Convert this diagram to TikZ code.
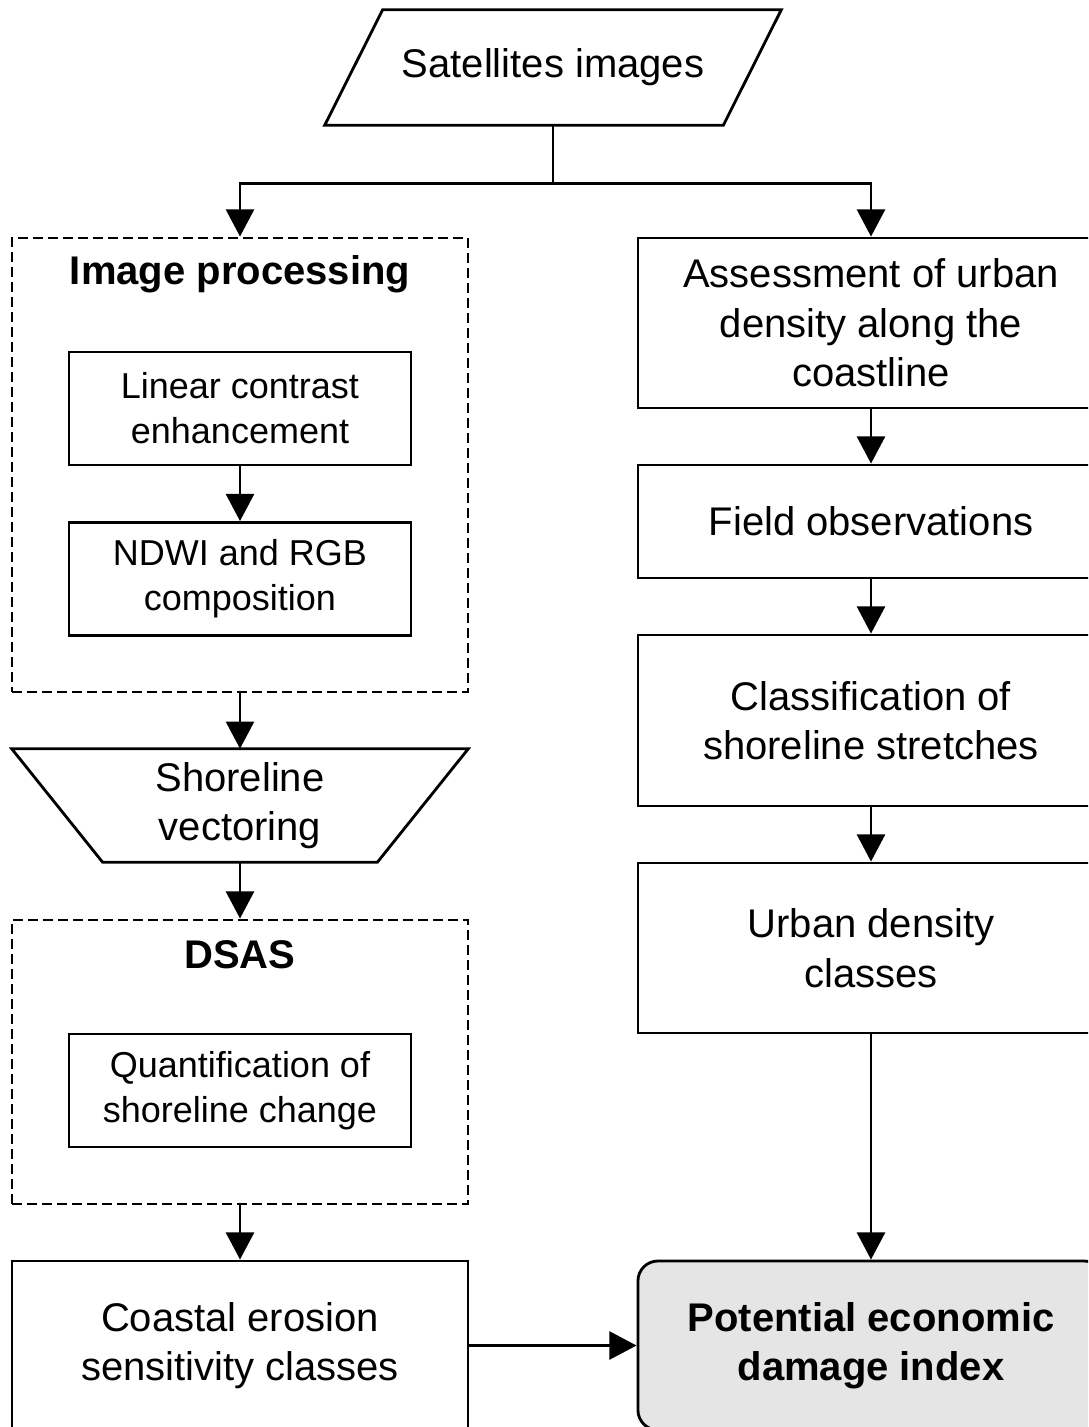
\documentclass[tikz,border=0pt]{standalone}
\usepackage{fontspec}
\setmainfont{Liberation Sans}
\usepackage{tikz}
\usetikzlibrary{arrows.meta}
\newcommand\mainsize{\fontsize{28.45}{35.2}\selectfont}
\newcommand\subsize{\fontsize{25.6}{32}\selectfont}
\definecolor{idxgray}{RGB}{229,229,229}
\tikzset{
  every picture/.style={line join=miter, >={Triangle[width=0.7cm,length=0.68cm]}},
  flow/.style={line width=2pt,->},
  outline/.style={line width=2pt},
  bigbox/.style={draw, line width=2pt, align=center, font=\mainsize, inner sep=0pt},
  plainbox/.style={align=center, font=\mainsize, inner sep=0pt},
  smallbox/.style={draw, line width=2pt, align=center, font=\subsize, inner sep=0pt,
    minimum width=8.55cm, minimum height=2.825cm},
  groupbox/.style={draw, line width=2pt, dash pattern=on 0.25cm off 0.125cm, inner sep=0pt,
    minimum width=11.4cm},
  grouptitle/.style={font=\mainsize\bfseries},
}

\begin{document}
\begin{tikzpicture}[x=0.025cm,y=-0.025cm]
\useasboundingbox (0,0) rectangle (1088,1427);
\clip (0,0) rectangle (1088,1427);
% input
\node[plainbox,minimum width=11.4cm,minimum height=2.875cm] (sat) at (553,67.5) {Satellites images};
\draw[outline] (sat.south west) -- ([xshift=1.45cm]sat.north west) -- (sat.north east)
  -- ([xshift=-1.45cm]sat.south east) -- cycle;
% left branch
\node[groupbox,minimum height=11.35cm] (proc) at (240,465) {};
\node[grouptitle] (proct) at (240,274) {Image processing};
\node[smallbox] (lin) at (240,408.5) {Linear contrast\\enhancement};
\node[smallbox] (ndwi) at (240,579) {NDWI and RGB\\composition};
\node[plainbox,minimum width=11.4cm,minimum height=2.825cm] (vect) at (240,805.5) {Shoreline\\vectoring};
\draw[outline] (vect.north west) -- (vect.north east) -- ([xshift=-2.275cm]vect.south east)
  -- ([xshift=2.275cm]vect.south west) -- cycle;
\node[groupbox,minimum height=7.1cm] (dsas) at (240,1062) {};
\node[grouptitle] (dsast) at (240,955) {DSAS};
\node[smallbox] (quant) at (240,1090.5) {Quantification of\\shoreline change};
\node[bigbox,minimum width=11.4cm,minimum height=4.225cm] (coast) at (240,1345.5) {Coastal erosion\\sensitivity classes};
% right branch
\node[bigbox,minimum width=11.65cm,minimum height=4.25cm] (assess) at (871,323) {Assessment of urban\\density along the\\coastline};
\node[bigbox,minimum width=11.65cm,minimum height=2.825cm] (field) at (871,521.5) {Field observations};
\node[bigbox,minimum width=11.65cm,minimum height=4.275cm] (class) at (871,720.5) {Classification of\\shoreline stretches};
\node[bigbox,minimum width=11.65cm,minimum height=4.25cm] (urban) at (871,948) {Urban density\\classes};
\node[bigbox,fill=idxgray,rounded corners=0.5cm,minimum width=11.65cm,minimum height=4.225cm,
  font=\mainsize\bfseries] (ped) at (871,1345.5) {Potential economic\\damage index};
% connectors
\draw[outline] (sat.south) -- +(0,58) coordinate (fork);
\draw[flow] (fork) -| (proc.north);
\draw[flow] (fork) -| (assess.north);
\draw[flow] (lin) -- (ndwi);
\draw[flow] (proc) -- (vect);
\draw[flow] (vect) -- (dsas);
\draw[flow] (dsas) -- (coast);
\draw[flow] (assess) -- (field);
\draw[flow] (field) -- (class);
\draw[flow] (class) -- (urban);
\draw[flow] (urban) -- (ped);
\draw[flow] (coast) -- (ped);
\end{tikzpicture}
\end{document}
